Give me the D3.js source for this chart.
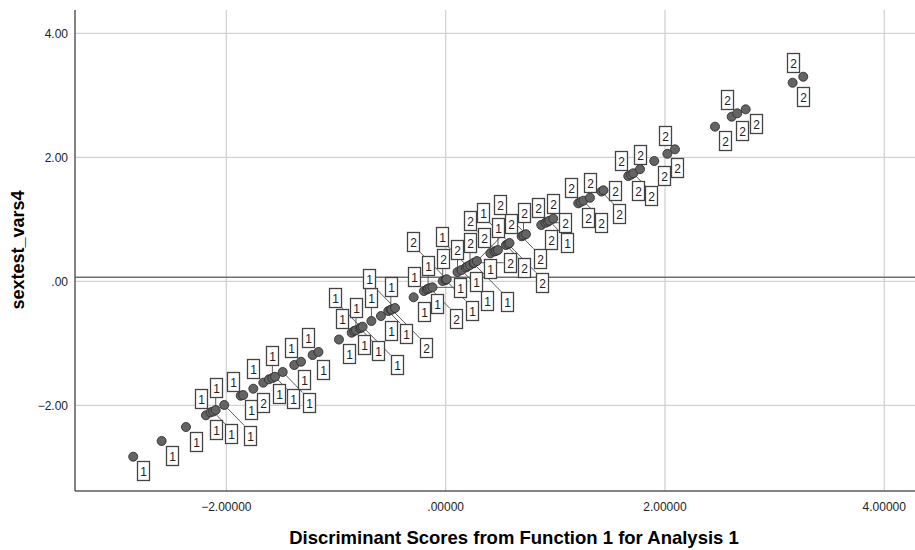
<!DOCTYPE html>
<html>
<head>
  <meta charset="UTF-8">
  <style>
    body {
      margin: 0;
      padding: 0;
      background-color: #ffffff;
      font-family: "Liberation Sans", Arial, sans-serif;
    }
    svg {
      display: block;
      background-color: #ffffff;
    }
    .tick-label {
      font-size: 12px;
      fill: #222;
    }
    .axis-title {
      font-weight: bold;
      fill: #000;
    }
    .case-label text {
      font-size: 12px;
      fill: #222;
    }
  </style>
</head>
<body>
  <svg></svg>
  <script src="https://d3js.org/d3.v7.min.js"></script>

  <script>
  // discriminant scores (x), sextest_vars4 (y) and group code of each case
  const scores = [-2.849, -2.590, -2.368, -2.186, -2.143, -2.120, -2.097, -2.019, -1.869, -1.846,
      -1.754, -1.663, -1.611, -1.580, -1.556, -1.486, -1.380, -1.319, -1.213, -1.160,
      -0.973, -0.857, -0.835, -0.818, -0.781, -0.770, -0.757, -0.677, -0.590, -0.523,
      -0.500, -0.492, -0.462, -0.292, -0.198, -0.171, -0.160, -0.143, -0.120, -0.027,
      0.000, 0.009, 0.108, 0.144, 0.185, 0.200, 0.222, 0.253, 0.260, 0.285,
      0.408, 0.445, 0.460, 0.477, 0.550, 0.570, 0.582, 0.693, 0.710, 0.732,
      0.872, 0.910, 0.930, 0.945, 0.981, 1.209, 1.230, 1.255, 1.316, 1.421,
      1.439, 1.665, 1.690, 1.711, 1.772, 1.902, 2.022, 2.091, 2.456, 2.608,
      2.659, 2.736, 3.164, 3.261];
  const values = [-2.829, -2.576, -2.350, -2.161, -2.113, -2.100, -2.076, -1.995, -1.845, -1.834,
      -1.732, -1.635, -1.581, -1.560, -1.539, -1.463, -1.350, -1.297, -1.189, -1.140,
      -0.939, -0.829, -0.800, -0.790, -0.758, -0.745, -0.732, -0.640, -0.560, -0.479,
      -0.460, -0.455, -0.431, -0.258, -0.156, -0.132, -0.120, -0.108, -0.097, 0.005,
      0.020, 0.034, 0.150, 0.182, 0.223, 0.240, 0.263, 0.290, 0.300, 0.327,
      0.452, 0.481, 0.490, 0.505, 0.585, 0.600, 0.618, 0.726, 0.740, 0.760,
      0.908, 0.945, 0.960, 0.977, 1.010, 1.258, 1.280, 1.300, 1.348, 1.448,
      1.468, 1.698, 1.720, 1.742, 1.808, 1.940, 2.056, 2.129, 2.494, 2.655,
      2.710, 2.774, 3.203, 3.300];
  const groups = [1, 1, 1, 1, 1, 1, 1, 1, 1, 1,
      2, 1, 1, 1, 1, 1, 1, 1, 1, 1,
      1, 1, 1, 1, 1, 1, 1, 1, 1, 1,
      1, 2, 1, 1, 1, 1, 1, 2, 1, 2,
      1, 2, 2, 1, 1, 1, 2, 1, 2, 2,
      1, 2, 2, 1, 2, 2, 1, 2, 2, 2,
      2, 2, 2, 1, 2, 2, 2, 2, 2, 2,
      2, 2, 2, 2, 2, 2, 2, 2, 2, 2,
      2, 2, 2, 2];
  const xTicks = [-2, 0, 2, 4];
  const yTicks = [-2, 0, 2, 4];
  const refValue = 0.065;

  let width = 915, height = 550;
  const plotL = 75, plotR = 915, plotT = 10, plotB = 491;

  let svg = d3.select("svg")
      .attr("width", width)
      .attr("height", height);

  const x = d3.scaleLinear().domain([-3.38, 4.28]).range([plotL, plotR]);
  const y = d3.scaleLinear().domain([-3.382, 4.376]).range([plotB, plotT]);

  // strip the leading zero like SPSS does (".00000")
  const fmtX = v => d3.format(".5f")(v).replace(/^(-?)0\./, "$1.");
  const fmtY = v => d3.format(".2f")(v).replace(/^(-?)0\./, "$1.");

  // grid
  svg.append("g").selectAll("line")
      .data(xTicks)
      .enter()
      .append("line")
      .attr("x1", d => x(d)).attr("x2", d => x(d))
      .attr("y1", plotT).attr("y2", plotB)
      .attr("stroke", "#d2d2d2")
      .attr("stroke-width", 1.3);

  svg.append("g").selectAll("line")
      .data(yTicks)
      .enter()
      .append("line")
      .attr("x1", plotL).attr("x2", plotR)
      .attr("y1", d => y(d)).attr("y2", d => y(d))
      .attr("stroke", "#d2d2d2")
      .attr("stroke-width", 1.3);

  // reference line
  svg.append("line")
      .attr("x1", plotL).attr("x2", plotR)
      .attr("y1", y(refValue)).attr("y2", y(refValue))
      .attr("stroke", "#707070")
      .attr("stroke-width", 1.5);

  // axis lines
  svg.append("line")
      .attr("x1", plotL).attr("x2", plotL)
      .attr("y1", plotT).attr("y2", plotB)
      .attr("stroke", "#5a5a5a")
      .attr("stroke-width", 1.5);
  svg.append("line")
      .attr("x1", plotL).attr("x2", plotR)
      .attr("y1", plotB).attr("y2", plotB)
      .attr("stroke", "#5a5a5a")
      .attr("stroke-width", 1.5);

  // tick labels
  svg.append("g").selectAll("text")
      .data(xTicks)
      .enter()
      .append("text")
      .attr("class", "tick-label")
      .attr("x", d => x(d))
      .attr("y", plotB + 20)
      .attr("text-anchor", "middle")
      .text(fmtX);

  svg.append("g").selectAll("text")
      .data(yTicks)
      .enter()
      .append("text")
      .attr("class", "tick-label")
      .attr("x", plotL - 7)
      .attr("y", d => y(d) + 4.5)
      .attr("text-anchor", "end")
      .text(fmtY);

  // axis titles
  svg.append("text")
      .attr("class", "axis-title")
      .attr("x", 514)
      .attr("y", 544)
      .attr("text-anchor", "middle")
      .style("font-size", "18.5px")
      .text("Discriminant Scores from Function 1 for Analysis 1");

  svg.append("text")
      .attr("class", "axis-title")
      .attr("transform", "translate(23.5, 250) rotate(-90)")
      .attr("text-anchor", "middle")
      .style("font-size", "18px")
      .text("sextest_vars4");

  // ---- case labels: greedy placement around each point ----
  const boxW = 12, boxH = 19, r = 4.5;
  const pts = scores.map((s, i) => ({ px: x(s), py: y(values[i]), g: groups[i] }));
  const dirs = [[1, 1], [-1, -1], [1, 0], [-1, 0], [0, 1], [0, -1], [1, -1], [-1, 1]];
  const placed = [];

  function overlapArea(a, b) {
      const w = Math.min(a.x1, b.x1) - Math.max(a.x0, b.x0);
      const h = Math.min(a.y1, b.y1) - Math.max(a.y0, b.y0);
      return (w > 0 && h > 0) ? w * h : 0;
  }

  function cost(box) {
      let c = 0;
      placed.forEach(b => {
          c += overlapArea(box, { x0: b.x0 - 1, x1: b.x1 + 1, y0: b.y0 - 1, y1: b.y1 + 1 });
      });
      pts.forEach(p => {
          const nx = Math.max(box.x0, Math.min(p.px, box.x1));
          const ny = Math.max(box.y0, Math.min(p.py, box.y1));
          if (Math.hypot(p.px - nx, p.py - ny) < r + 0.5) c += 25;
      });
      if (box.x0 < plotL + 2 || box.x1 > plotR - 2 || box.y0 < plotT || box.y1 > plotB - 2) c += 5000;
      return c;
  }

  pts.forEach(p => {
      let best = null;
      for (let k = 0; k < 8; k++) {
          for (const [dx, dy] of dirs) {
              const ox = dx === 0 ? 0 : dx * ((dy === 0 ? boxW / 2 + r + 1 : boxW / 2 + 4) + k * 8);
              const oy = dy === 0 ? 0 : dy * ((dx === 0 ? boxH / 2 + r + 1 : boxH / 2 + 4.5) + k * 8);
              const cx = p.px + ox, cy = p.py + oy;
              const box = { x0: cx - boxW / 2, x1: cx + boxW / 2, y0: cy - boxH / 2, y1: cy + boxH / 2 };
              const c = cost(box) + k * 6;
              if (!best || c < best.c) best = { box, c, k };
          }
          if (best && best.c <= k * 6) break;
      }
      p.box = best.box;
      p.k = best.k;
      placed.push(best.box);
  });

  // leader lines
  svg.append("g").selectAll("line")
      .data(pts.filter(p => p.k > 0))
      .enter()
      .append("line")
      .attr("x1", p => p.px)
      .attr("y1", p => p.py)
      .attr("x2", p => Math.max(p.box.x0, Math.min(p.px, p.box.x1)))
      .attr("y2", p => Math.max(p.box.y0, Math.min(p.py, p.box.y1)))
      .attr("stroke", "#4a4a4a")
      .attr("stroke-width", 0.9);

  // points
  svg.append("g").selectAll("circle")
      .data(pts)
      .enter()
      .append("circle")
      .attr("cx", p => p.px)
      .attr("cy", p => p.py)
      .attr("r", r)
      .attr("fill", "#646464")
      .attr("stroke", "#303030")
      .attr("stroke-width", 0.9);

  // label boxes
  const labels = svg.append("g")
      .attr("class", "case-label")
      .selectAll("g")
      .data(pts)
      .enter()
      .append("g");

  labels.append("rect")
      .attr("x", p => Math.round(p.box.x0) + 0.5)
      .attr("y", p => Math.round(p.box.y0) + 0.5)
      .attr("width", boxW)
      .attr("height", boxH)
      .attr("fill", "#fff")
      .attr("stroke", "#444")
      .attr("stroke-width", 1.3);

  labels.append("text")
      .attr("x", p => Math.round(p.box.x0) + 0.5 + boxW / 2)
      .attr("y", p => Math.round(p.box.y0) + 0.5 + boxH / 2 + 4.5)
      .attr("text-anchor", "middle")
      .text(p => p.g);
  </script>

</body>
</html>
